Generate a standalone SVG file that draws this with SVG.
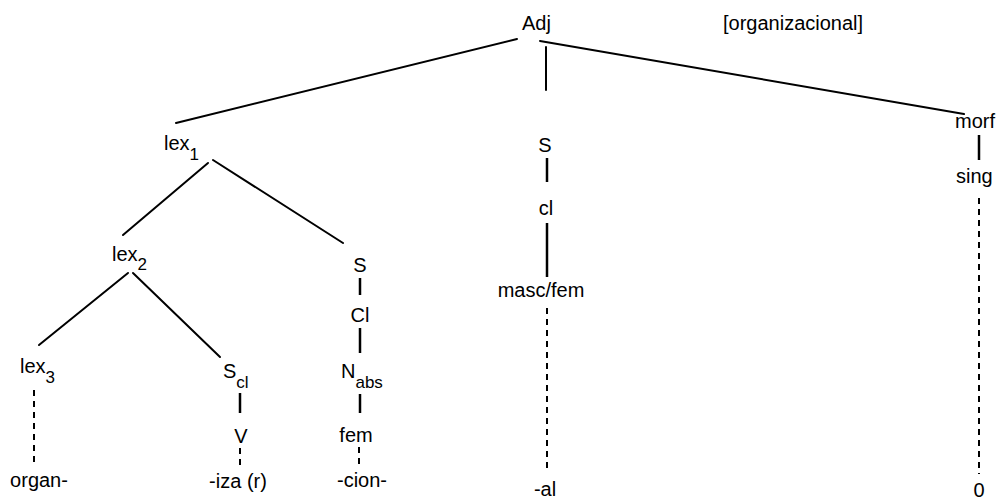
<svg xmlns="http://www.w3.org/2000/svg" width="998" height="502" viewBox="0 0 998 502">
<style>
text{font-family:"Liberation Sans",Arial,sans-serif;font-size:20px;fill:#000}
.m{text-anchor:middle}
.sub{font-size:17px}
.e{stroke:#000;stroke-width:2;fill:none;stroke-linecap:round}
.b{stroke:#000;stroke-width:2.5;fill:none}
.d{stroke:#000;stroke-width:2;fill:none;stroke-dasharray:6 5}
</style>
<rect width="998" height="502" fill="#fff"/>
<g id="connectors">
<line class="e" x1="517" y1="39" x2="176" y2="123"/>
<line class="e" x1="540" y1="41" x2="964" y2="114"/>
<line class="e" x1="546" y1="47" x2="546" y2="90"/>
<line class="e" x1="208" y1="163" x2="123" y2="235"/>
<line class="e" x1="213" y1="160" x2="343" y2="243"/>
<line class="e" x1="128" y1="273" x2="39" y2="345"/>
<line class="e" x1="133" y1="273" x2="220" y2="357"/>
<line class="b" x1="979" y1="135" x2="979" y2="160"/>
<line class="d" x1="979" y1="198" x2="979" y2="474"/>
<line class="b" x1="547" y1="158" x2="547" y2="182"/>
<line class="b" x1="547" y1="223" x2="547" y2="277"/>
<line class="d" x1="547" y1="308" x2="547" y2="472"/>
<line class="b" x1="360" y1="278" x2="360" y2="295"/>
<line class="b" x1="360" y1="328" x2="360" y2="353"/>
<line class="b" x1="360" y1="394" x2="360" y2="413"/>
<line class="d" x1="359" y1="447" x2="359" y2="467"/>
<line class="b" x1="240" y1="393" x2="240" y2="413"/>
<line class="d" x1="240" y1="448" x2="240" y2="468"/>
<line class="d" x1="34" y1="390" x2="34" y2="465"/>
</g>
<g id="adj"><text x="522" y="30">Adj</text></g>
<g id="organizacional"><text x="723" y="30">[organizacional]</text></g>
<g id="lex1"><text x="164" y="150">lex<tspan class="sub" dy="10">1</tspan></text></g>
<g id="lex2"><text x="112" y="261">lex<tspan class="sub" dy="9">2</tspan></text></g>
<g id="lex3"><text x="20" y="373">lex<tspan class="sub" dy="10">3</tspan></text></g>
<g id="organ"><text class="m" x="39" y="487">organ-</text></g>
<g id="scl"><text x="223" y="378">S<tspan class="sub" dy="10">cl</tspan></text></g>
<g id="v"><text class="m" x="241" y="443">V</text></g>
<g id="iza"><text class="m" x="238" y="488">-iza (r)</text></g>
<g id="s1"><text class="m" x="360" y="272">S</text></g>
<g id="cl1"><text class="m" x="360" y="322">Cl</text></g>
<g id="nabs"><text x="341" y="378">N<tspan class="sub" dy="10">abs</tspan></text></g>
<g id="fem"><text class="m" x="356" y="442">fem</text></g>
<g id="cion"><text class="m" x="362" y="487">-cion-</text></g>
<g id="s2"><text class="m" x="545" y="152">S</text></g>
<g id="cl2"><text class="m" x="546" y="215">cl</text></g>
<g id="mascfem"><text class="m" x="541" y="297">masc/fem</text></g>
<g id="al"><text class="m" x="545" y="496">-al</text></g>
<g id="morf"><text x="955" y="128">morf</text></g>
<g id="sing"><text x="956" y="183">sing</text></g>
<g id="zero"><text class="m" x="979" y="497">0</text></g>
</svg>
